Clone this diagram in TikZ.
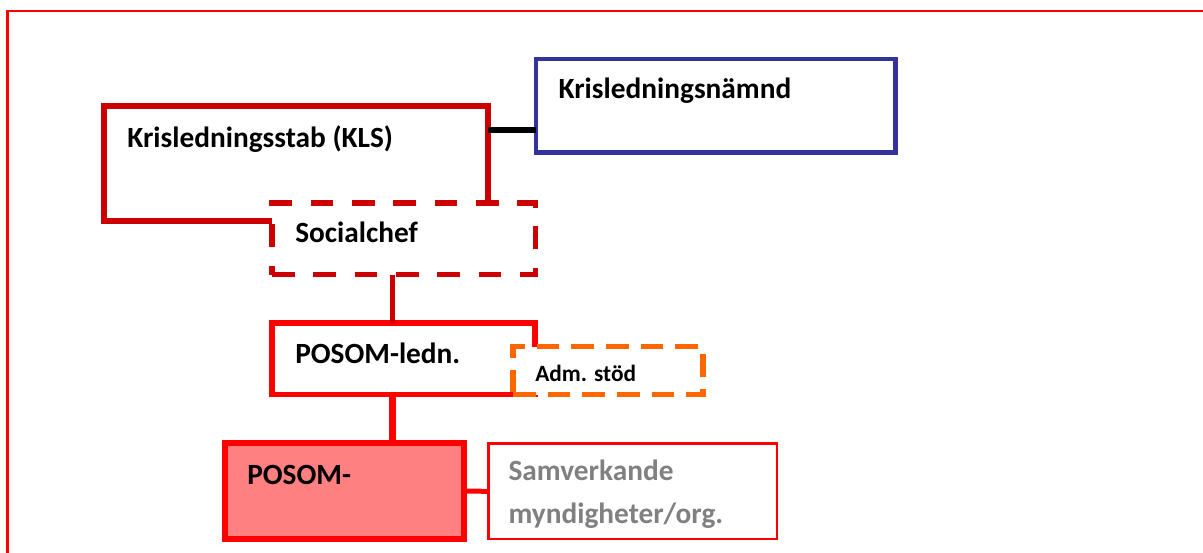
\documentclass[tikz,border=0pt]{standalone}
\usepackage{fontspec}
\setmainfont{Carlito}
\usetikzlibrary{calc}
\definecolor{klsred}{HTML}{CC0000}
\definecolor{brightred}{HTML}{FF0000}
\definecolor{nbblue}{HTML}{333399}
\definecolor{admorange}{HTML}{FF6600}
\definecolor{posfill}{HTML}{FF8080}
\definecolor{samgray}{HTML}{808080}
\begin{document}
\begin{tikzpicture}[x=0.75pt,y=-0.75pt,
  box/.style={draw, inner sep=0pt, outer sep=0pt, anchor=north west, fill=white},
  lbl/.style={anchor=base west, inner sep=0pt, font=\fontsize{22}{26}\selectfont\bfseries},
  smalllbl/.style={anchor=base west, inner sep=0pt, font=\fontsize{17.5}{21}\selectfont\bfseries},
  conn/.style={line width=5*0.75pt}]
\useasboundingbox (0,0) rectangle (1203,553);
% outer frame
\draw[brightred, line width=2.8*0.75pt] (7.8,553) -- (7.8,11) -- (1203,11);

% Krisledningsstab
\node[box, draw=klsred, line width=5.5*0.75pt, minimum width=384*0.75pt, minimum height=115*0.75pt] (kls) at (104,106) {};
\node[lbl] (klsT) at (127,147.3) {Krisledningsstab (KLS)};

% Krisledningsnämnd
\node[box, draw=nbblue, line width=4.3*0.75pt, minimum width=359.5*0.75pt, minimum height=93.5*0.75pt] (kln) at (536,59) {};
\node[lbl] (klnT) at (558.3,98.3) {Krisledningsnämnd};
\draw[line width=5.5*0.75pt, black] ($(kls.north east)+(0,24)$) -- ($(kln.north west)+(0,71)$);

% Socialchef
\node[box, draw=klsred, line width=5.5*0.75pt, dash pattern=on 17pt off 14pt, minimum width=263.5*0.75pt, minimum height=71.7*0.75pt] (soc) at (272,203) {};
\node[lbl] (socT) at (295,242.7) {Socialchef};

% POSOM-ledn.
\node[box, draw=brightred, line width=5.5*0.75pt, minimum width=263*0.75pt, minimum height=71.5*0.75pt] (pl) at (272,323) {};
\node[lbl] (plT) at (295,363.3) {POSOM-ledn.};
\draw[conn, klsred] ($(soc.south west)+(120,0)$) -- ($(pl.north west)+(120,0)$);

% Adm. stöd
\node[box, draw=admorange, line width=5.5*0.75pt, dash pattern=on 17pt off 9pt, minimum width=190*0.75pt, minimum height=47.8*0.75pt] (adm) at (513,346.7) {};
\node[smalllbl] (admT) at (535,381.7) {Adm. stöd};

% POSOM-
\node[box, draw=brightred, fill=posfill, line width=6*0.75pt, minimum width=239.2*0.75pt, minimum height=96*0.75pt] (pb) at (224.5,443) {};
\node[lbl] (pbT) at (247,484) {POSOM-};
\draw[line width=7*0.75pt, brightred] ($(pl.south west)+(120,0)$) -- ($(pb.north west)+(167.5,0)$);

% Samverkande
\node[box, draw=brightred, line width=2.5*0.75pt, minimum width=288.3*0.75pt, minimum height=95.3*0.75pt] (sam) at (488.7,443.7) {};
\node[lbl, text=samgray] (samT1) at (508.3,480.7) {Samverkande};
\node[lbl, text=samgray] (samT2) at (508.3,523.3) {myndigheter/org.};
\draw[conn, brightred] (pb.east) -- (sam.west);
\end{tikzpicture}
\end{document}
